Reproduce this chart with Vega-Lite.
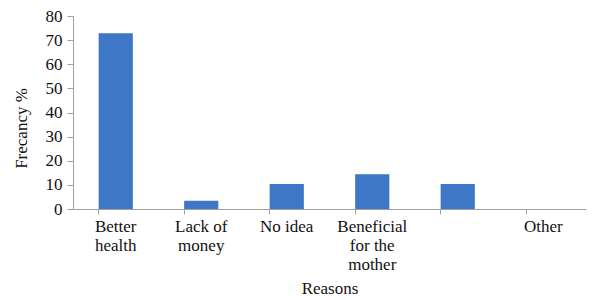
{
  "$schema": "https://vega.github.io/schema/vega-lite/v6.json",
  "autosize": "none",
  "width": 513,
  "height": 193,
  "padding": {"left": 73, "top": 16, "right": 10, "bottom": 91},
  "background": "white",
  "config": {
    "view": {"stroke": null},
    "font": "Liberation Serif"
  },
  "data": {
    "values": [
      {"reason": "Better\nhealth", "pct": 72.8},
      {"reason": "Lack of\nmoney", "pct": 3.4},
      {"reason": "No idea", "pct": 10.4},
      {"reason": "Beneficial\nfor the\nmother", "pct": 14.4},
      {"reason": " ", "pct": 10.4},
      {"reason": "Other", "pct": 0}
    ]
  },
  "mark": {"type": "bar", "color": "#3d77c6"},
  "encoding": {
    "x": {
      "field": "reason",
      "type": "nominal",
      "sort": null,
      "scale": {"paddingInner": 0.6, "paddingOuter": 0.3},
      "axis": {
        "title": "Reasons",
        "titleFont": "Liberation Serif",
        "titleFontSize": 17,
        "titleFontWeight": "normal",
        "titleColor": "#111",
        "titlePadding": 8,
        "labelAngle": 0,
        "labelFont": "Liberation Serif",
        "labelFontSize": 17,
        "labelColor": "#111",
        "labelLineHeight": 19,
        "labelPadding": 4,
        "labelExpr": "split(datum.label, '\\n')",
        "bandPosition": 0,
        "tickSize": 5,
        "tickColor": "#a0a0a0",
        "domainColor": "#a0a0a0",
        "grid": false
      }
    },
    "y": {
      "field": "pct",
      "type": "quantitative",
      "scale": {"domain": [0, 80]},
      "axis": {
        "title": "Frecancy %",
        "titleFont": "Liberation Serif",
        "titleFontSize": 17,
        "titleFontWeight": "normal",
        "titleColor": "#111",
        "titlePadding": 15,
        "titleY": 112,
        "values": [0, 10, 20, 30, 40, 50, 60, 70, 80],
        "labelFont": "Liberation Serif",
        "labelFontSize": 17,
        "labelColor": "#111",
        "labelPadding": 5,
        "tickSize": 6,
        "tickColor": "#a0a0a0",
        "domainColor": "#a0a0a0",
        "grid": false
      }
    }
  }
}
